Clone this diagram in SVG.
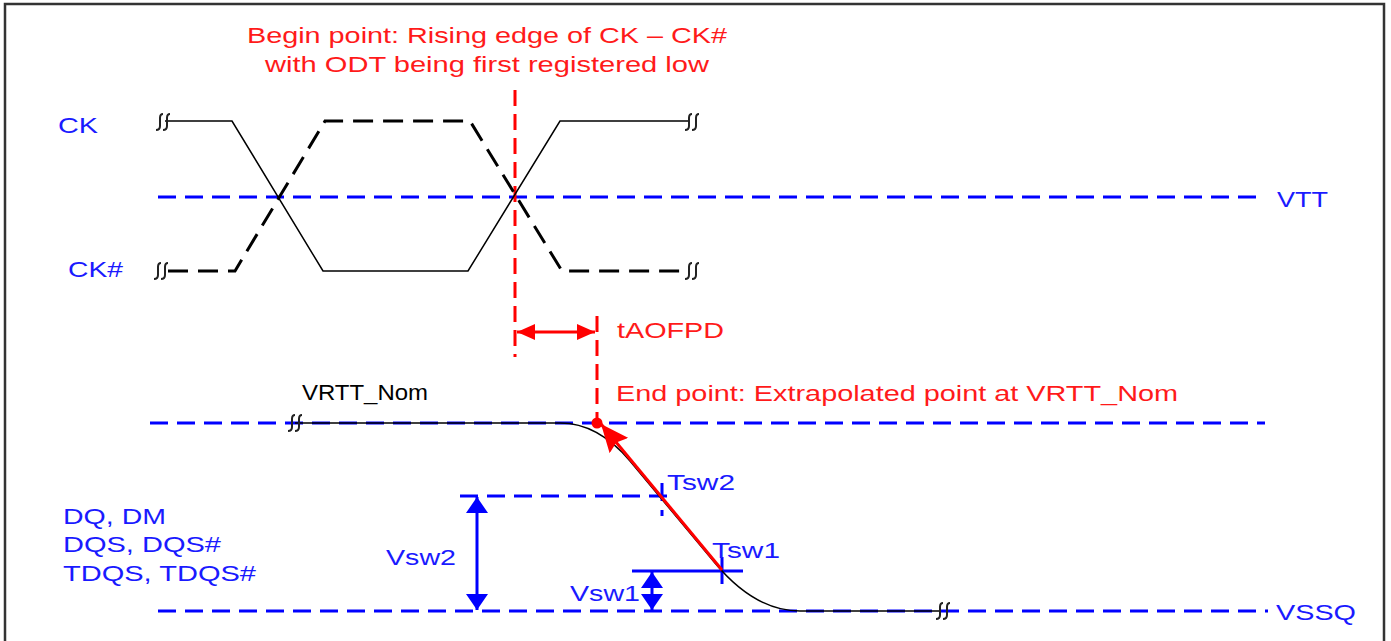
<svg xmlns="http://www.w3.org/2000/svg" width="1391" height="641" viewBox="0 0 1391 641">
<style>
.txt{font-family:"Liberation Sans",Arial,sans-serif;font-size:22px}
.red{fill:#ff1a1a}
.blue{fill:#1a1aff}
.bdash{fill:none;stroke:#0000ff;stroke-width:3;stroke-dasharray:18 9}
.bsolid{fill:none;stroke:#0000ff;stroke-width:3}
.rdash{fill:none;stroke:#ff0000;stroke-width:3;stroke-dasharray:16 8}
.rsolid{fill:none;stroke:#ff0000;stroke-width:3}
.ck{fill:none;stroke:#000;stroke-width:1.5}
.ckb{fill:none;stroke:#000;stroke-width:3;stroke-dasharray:20 10}
.brk{fill:none;stroke:#222;stroke-width:2}
</style>
<defs>
<marker id="ab" markerUnits="userSpaceOnUse" viewBox="0 0 16 22" refX="16" refY="11" markerWidth="16" markerHeight="22" orient="auto-start-reverse"><path d="M0,0 L16,11 L0,22 z" fill="#0000ff"/></marker>
<marker id="ar" markerUnits="userSpaceOnUse" viewBox="0 0 18 16" refX="18" refY="8" markerWidth="18" markerHeight="16" orient="auto-start-reverse"><path d="M0,0 L18,8 L0,16 z" fill="#ff0000"/></marker>
<marker id="arb" markerUnits="userSpaceOnUse" viewBox="0 0 28 24" refX="28" refY="12" markerWidth="28" markerHeight="24" orient="auto"><path d="M0,0 L28,12 L0,24 L4,12 z" fill="#ff0000"/></marker>
<path id="brkmark" d="M2,-8 q-3,0 -3,4 v8 q0,4 -4,4 M9,-8 q-3,0 -3,4 v8 q0,4 -4,4"/>
</defs>
<rect width="1391" height="641" fill="#fff"/>
<g id="frame" fill="none" stroke="#333" stroke-width="2.5">
<path d="M5,645 V4 H1384 V645"/>
</g>
<g id="connectors">
<line class="bdash" x1="158" y1="197" x2="1262" y2="197"/>
<line class="bdash" x1="150" y1="423" x2="1265" y2="423"/>
<line class="bdash" x1="460" y1="496" x2="675" y2="496"/>
<line class="bdash" x1="158" y1="611" x2="1268" y2="611"/>
<line class="bdash" x1="662" y1="483" x2="662" y2="516" stroke-dasharray="10 6"/>
<line class="bsolid" x1="632" y1="571" x2="743" y2="571"/>
<line class="bsolid" x1="722" y1="557" x2="722" y2="584"/>
<line class="bsolid" x1="477" y1="497" x2="477" y2="610" marker-start="url(#ab)" marker-end="url(#ab)"/>
<line class="bsolid" x1="652" y1="572" x2="652" y2="610" marker-start="url(#ab)" marker-end="url(#ab)"/>
<line class="rdash" x1="515" y1="90" x2="515" y2="357"/>
<line class="rdash" x1="597" y1="316" x2="597" y2="420"/>
<line class="rsolid" x1="517" y1="332" x2="595" y2="332" marker-start="url(#ar)" marker-end="url(#ar)"/>
</g>
<g id="ck">
<path class="ck" d="M165,121 H232 L323,271 H468 L560,121 H690"/>
<use href="#brkmark" x="161" y="122" class="brk"/>
<use href="#brkmark" x="690" y="122" class="brk"/>
</g>
<g id="ckb">
<path class="ckb" d="M168,271 H235 L325,121 H470 L562,271 H690"/>
<use href="#brkmark" x="159" y="271" class="brk"/>
<use href="#brkmark" x="690" y="271" class="brk"/>
</g>
<g id="dq">
<path class="ck" d="M295,423 L560,423 Q598,423 630,461 L715,563 Q755,611 800,611 L940,611"/>
<use href="#brkmark" x="293" y="423" class="brk"/>
<use href="#brkmark" x="941" y="611" class="brk"/>
<line class="rsolid" x1="722" y1="570" x2="601" y2="424" stroke-width="3.5" marker-end="url(#arb)"/>
<circle cx="597" cy="423" r="5.5" fill="#ff0000"/>
</g>
<g id="labels" class="txt">
<text class="red" x="247" y="43" textLength="480" lengthAdjust="spacingAndGlyphs">Begin point: Rising edge of CK – CK#</text>
<text class="red" x="265" y="72" textLength="444" lengthAdjust="spacingAndGlyphs">with ODT being first registered low</text>
<text class="blue" x="58" y="133" textLength="40" lengthAdjust="spacingAndGlyphs">CK</text>
<text class="blue" x="68" y="277" textLength="55" lengthAdjust="spacingAndGlyphs">CK#</text>
<text class="blue" x="1277" y="207" textLength="51" lengthAdjust="spacingAndGlyphs">VTT</text>
<text class="red" x="617" y="338" textLength="107" lengthAdjust="spacingAndGlyphs">tAOFPD</text>
<text class="txt" x="302" y="400" textLength="126" lengthAdjust="spacingAndGlyphs" fill="#000">VRTT_Nom</text>
<text class="red" x="616" y="401" textLength="562" lengthAdjust="spacingAndGlyphs">End point: Extrapolated point at VRTT_Nom</text>
<text class="blue" x="667" y="490" textLength="68" lengthAdjust="spacingAndGlyphs">Tsw2</text>
<text class="blue" x="712" y="558" textLength="68" lengthAdjust="spacingAndGlyphs">Tsw1</text>
<text class="blue" x="63" y="524" textLength="103" lengthAdjust="spacingAndGlyphs">DQ, DM</text>
<text class="blue" x="63" y="552" textLength="158" lengthAdjust="spacingAndGlyphs">DQS, DQS#</text>
<text class="blue" x="63" y="581" textLength="193" lengthAdjust="spacingAndGlyphs">TDQS, TDQS#</text>
<text class="blue" x="386" y="565" textLength="70" lengthAdjust="spacingAndGlyphs">Vsw2</text>
<text class="blue" x="570" y="601" textLength="70" lengthAdjust="spacingAndGlyphs">Vsw1</text>
<text class="blue" x="1276" y="620" textLength="80" lengthAdjust="spacingAndGlyphs">VSSQ</text>
</g>
</svg>
